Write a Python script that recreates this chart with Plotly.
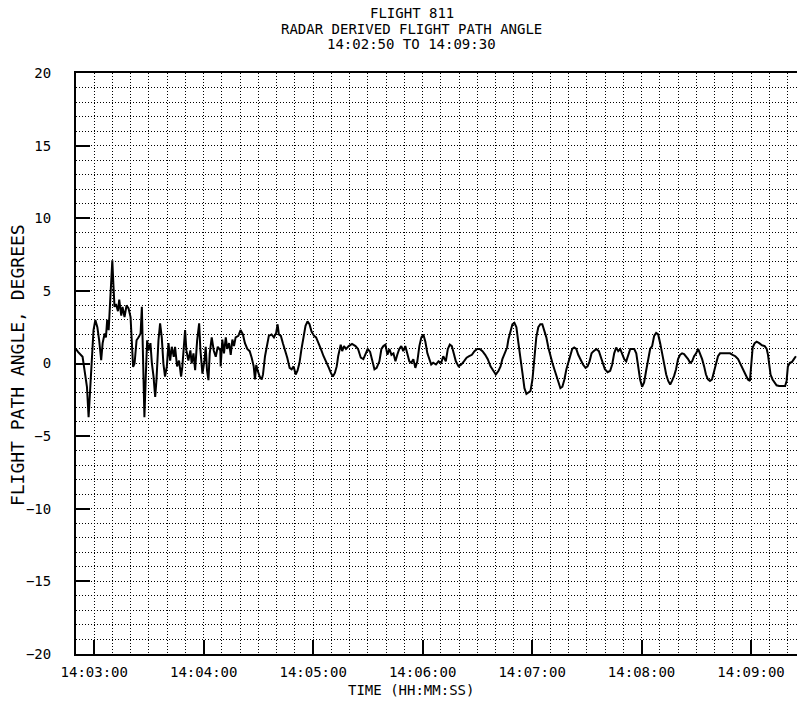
import plotly.graph_objects as go

# elapsed seconds since 14:02:50, flight path angle in degrees
elapsed_s = [
    0.0, 1.1, 3.6, 5.1, 6.0, 6.9, 7.6, 8.4, 9.6, 10.6, 11.7, 12.7, 13.8, 14.6, 15.7, 16.4,
    17.1, 17.9, 18.6, 19.3, 19.9, 20.4, 21.1, 21.9, 23.0, 23.7, 24.8, 25.5, 26.6, 27.7,
    28.8, 29.9, 30.6, 31.3, 32.1, 33.2, 34.3, 35.4, 36.1, 36.6, 37.0, 37.5, 38.3, 39.0,
    39.7, 40.8, 41.6, 42.5, 43.4, 44.1, 45.2, 46.1, 47.0, 47.9, 48.8, 49.8, 50.7, 51.6,
    52.5, 53.6, 54.3, 55.4, 56.5, 57.6, 58.3, 59.1, 59.8, 60.5, 61.6, 62.7, 63.4, 64.4,
    65.3, 66.4, 67.5, 68.2, 69.3, 70.4, 71.1, 71.8, 72.6, 73.3, 74.4, 75.5, 76.6, 77.7,
    79.1,
    79.3, 80.2, 81.1, 82.1, 82.9, 83.9, 84.8, 85.7, 86.6, 87.5, 89.0, 90.2, 91.5, 92.6,
    93.9, 95.2, 96.3, 97.4, 98.1, 98.8, 99.6, 100.7, 101.8, 102.5, 103.6, 104.8, 105.7,
    107.2, 108.5, 109.7, 110.5, 111.2, 112.3, 113.4, 114.5, 115.8, 117.1, 118.2, 119.3,
    120.4, 121.4, 122.5, 123.6, 124.7, 125.8, 126.9, 128.0, 129.1, 130.5, 131.6, 132.7,
    134.2, 135.7, 137.1, 138.6, 139.7, 140.8, 141.9, 142.9, 143.7, 144.4, 145.1, 145.9,
    146.9, 148.0, 149.5, 151.3, 153.2, 154.6, 156.1, 157.5,
    158.6, 159.9, 161.2, 162.3, 163.6, 164.8, 166.3, 167.4, 168.5, 169.6, 170.7, 171.8,
    172.9, 174.0, 175.1, 176.1, 177.2, 178.3, 179.4, 180.5, 181.6, 182.7, 183.8, 184.9,
    186.0, 187.1, 188.2, 189.3, 190.4, 191.5, 192.6, 193.7, 194.7, 195.8, 197.3, 198.7,
    200.2, 201.3, 202.7, 203.8, 204.9, 206.0, 207.1, 208.2, 209.7, 211.2, 212.6, 214.1,
    215.5, 217.0, 218.4, 219.9, 221.3, 222.8, 224.3, 225.7, 227.2, 228.7, 230.1, 231.6,
    232.7, 233.7, 234.8, 236.3,
    237.0, 238.1, 239.2, 240.3, 241.4, 242.5, 243.6, 244.7, 245.8, 246.9, 248.0, 249.1,
    250.2, 251.3, 252.3, 253.4, 254.5, 255.6, 256.7, 257.8, 258.9, 260.0, 261.1, 262.2,
    263.3, 264.4, 265.5, 266.6, 267.7, 268.8, 269.9, 271.0, 272.0, 273.1, 274.2, 275.3,
    276.4, 277.9, 279.3, 280.4, 281.5, 282.6, 283.7, 285.2, 286.6, 287.7, 288.8, 289.9,
    291.4, 292.8, 293.9, 295.0, 296.1, 297.2, 298.3, 299.4, 300.5, 301.6, 302.7, 303.8,
    304.9, 306.0, 307.1, 308.2, 309.2, 310.3, 311.4, 312.5, 313.6, 314.7, 315.8,
    316.9, 318.0, 319.1, 320.2, 321.3, 322.4, 323.5, 324.6, 325.7, 326.7, 327.8, 328.9,
    330.0, 331.1, 332.2, 333.3, 334.4, 335.5, 336.6, 337.7, 338.8, 339.9, 341.0, 342.1,
    343.2, 344.3, 345.3, 346.4, 347.5, 348.6, 349.7, 350.8, 351.9, 353.0, 354.1, 355.2,
    356.3, 357.4, 358.5, 359.9, 361.4, 362.9, 364.3, 365.8, 367.2, 368.3, 369.4, 370.1,
    370.9, 372.0, 373.1, 374.5, 376.0, 377.5, 378.6, 379.3, 380.0, 380.7, 381.8, 382.9,
    384.0, 385.4, 386.9, 388.7, 389.5, 390.2, 391.3, 392.4, 393.5, 394.6,
]
fpa_deg = [
    1.0, 0.8, 0.46, -0.9, -1.6, -3.7, -2.3, -0.46, 2.3, 3.0, 2.5, 1.6, 0.23, 1.4, 2.07, 1.8,
    3.0, 2.3, 3.9, 5.06, 7.1, 5.7, 3.9, 4.1, 3.6, 4.4, 3.3, 3.9, 3.2, 4.0,
    3.8, 3.2, 1.6, -0.23, 0.0, 1.6, 1.8, 2.07, 3.9, 1.6, -1.15, -3.7, -0.7, 1.6,
    0.9, 1.4, 0.0, -0.9, -2.3, -1.15, 1.6, 2.76, 1.8, 0.0, -0.9, -0.2, 1.4, 0.2,
    1.15, 0.46, 1.15, -0.2, 0.2, -0.9, -0.2, 1.6, 2.3, 0.9, 0.2, 0.9, 0.0, 0.7,
    -0.46, 1.6, 2.76, 0.9, -0.7, 0.2, 1.15, -0.46, -1.15, 0.7, 1.8, 0.9, 0.46, 1.15,
    0.9,
    -0.2, 1.65, 0.7, 1.8, 1.0, 1.4, 0.6, 1.65, 1.2, 1.8, 1.9, 2.3, 2.0, 1.4,
    1.0, 0.85, 0.4, -0.2, -1.1, -0.1, -0.5, -0.9, -1.1, -0.75, 0.5, 1.4, 1.9,
    2.0, 1.8, 2.1, 2.7, 2.0, 1.9, 1.4, 1.0, 0.4, -0.3, -0.4, -0.2,
    -0.76, -0.5, 0.05, 1.0, 1.9, 2.6, 2.9, 2.7, 2.2, 1.9, 1.8, 1.4,
    1.0, 0.5, 0.15, -0.3, -0.65, -0.9, -0.65, -0.2, 0.5, 1.0, 1.3, 0.85,
    1.2, 1.0, 1.2, 1.35, 1.2, 1.0, 0.4, 0.3,
    0.6, 1.0, 0.8, 0.15, -0.4, -0.3, 0.15, 1.0, 1.2, 1.3, 0.6, 1.0,
    0.6, 0.7, 0.15, 0.6, 1.0, 1.2, 0.85, 1.2, 0.6, 0.15, 0.05, 0.3,
    -0.3, 0.15, 1.2, 1.8, 2.0, 1.5, 0.7, 0.3, -0.07, 0.05, -0.07, 0.15,
    0.05, 0.5, 0.15, 1.0, 1.3, 1.2, 0.7, 0.15, -0.2, -0.07, 0.15, 0.4,
    0.5, 0.6, 0.85, 1.0, 1.0, 0.85, 0.6, 0.3, -0.2, -0.5, -0.76, -0.5,
    -0.2, 0.3, 0.7, 1.1,
    1.65, 2.3, 2.7, 2.8, 2.5, 1.4, 0.5, -0.65, -1.7, -2.1, -2.0, -1.9,
    -1.1, 0.5, 1.8, 2.5, 2.7, 2.7, 2.3, 1.8, 1.1, 0.5, 0.05, -0.4,
    -0.87, -1.3, -1.7, -1.6, -1.1, -0.4, 0.15, 0.6, 1.0, 1.1, 1.0, 0.6,
    0.3, -0.07, -0.3, -0.2, 0.15, 0.7, 0.85, 1.0, 0.85, 0.4, 0.05, -0.4,
    -0.6, -0.5, -0.07, 0.7, 1.1, 0.85, 1.0, 0.7, 0.3, 0.15, 0.6, 1.0,
    1.0, 1.0, 0.7, -0.2, -1.1, -1.6, -1.3, -0.5, 0.4, 1.0, 1.2,
    1.9, 2.1, 2.0, 1.4, 0.7, -0.07, -0.76, -1.2, -1.45, -1.2, -0.87, -0.4,
    0.3, 0.6, 0.7, 0.65, 0.5, 0.3, 0.05, 0.15, 0.5, 0.7, 1.0, 0.7,
    0.3, -0.2, -0.76, -1.1, -1.2, -1.1, -0.5, 0.05, 0.5, 0.7, 0.7, 0.7,
    0.7, 0.65, 0.7, 0.6, 0.5, 0.3, -0.07, -0.4, -0.76, -1.1, -1.2, -0.2,
    1.1, 1.4, 1.5, 1.4, 1.25, 1.2, 1.0, 0.6, -0.2, -0.76, -1.1, -1.3,
    -1.5, -1.55, -1.55, -1.55, -1.2, -0.2, 0.05, 0.1, 0.3, 0.5,
]

tick_vals = [10, 70, 130, 190, 250, 310, 370]
tick_text = ["14:03:00", "14:04:00", "14:05:00", "14:06:00", "14:07:00", "14:08:00", "14:09:00"]
title_lines = ["FLIGHT 811", "RADAR DERIVED FLIGHT PATH ANGLE", "14:02:50 TO 14:09:30"]

FONT = "DejaVu Sans Mono"
txt_font = dict(family=FONT, size=14, color="black")

fig = go.Figure()
fig.add_trace(go.Scatter(x=elapsed_s, y=fpa_deg, mode="lines",
                         line=dict(color="black", width=2), showlegend=False))

fig.update_xaxes(range=[0, 395.2], tickmode="array", tickvals=tick_vals, ticktext=tick_text,
                 ticks="inside", ticklen=14, tickwidth=2, tickcolor="black",
                 showline=True, linewidth=2, linecolor="black", mirror=True,
                 showgrid=False, zeroline=False, automargin=False, ticklabelstandoff=4,
                 minor=dict(tick0=0, dtick=10, showgrid=True, gridcolor="black",
                            gridwidth=1, griddash="1px,2px"),
                 tickfont=txt_font)
fig.update_yaxes(range=[-20, 20], tickmode="linear", tick0=-20, dtick=5,
                 ticks="inside", ticklen=14, tickwidth=2, tickcolor="black",
                 showline=True, linewidth=2, linecolor="black",
                 showgrid=True, gridcolor="black", gridwidth=1, griddash="1px,2px",
                 zeroline=False, ticklabelstandoff=20, automargin=False,
                 minor=dict(dtick=1, showgrid=True, gridcolor="black",
                            gridwidth=1, griddash="1px,2px"),
                 tickfont=txt_font)

# title lines, stacked like the plotter output
for txt, yp in zip(title_lines, [1.103, 1.0757, 1.050]):
    fig.add_annotation(text=txt, xref="paper", yref="paper", x=0.466, y=yp,
                       xanchor="center", yanchor="middle", showarrow=False, font=txt_font)
fig.add_annotation(text="TIME (HH:MM:SS)", xref="paper", yref="paper", x=0.465, y=-0.062,
                   xanchor="center", yanchor="middle", showarrow=False, font=txt_font)
fig.add_annotation(text="FLIGHT PATH ANGLE, DEGREES", xref="paper", yref="paper",
                   x=-0.082, y=0.497, textangle=-90, xanchor="center", yanchor="middle",
                   showarrow=False, font=dict(family=FONT, size=18, color="black"))

fig.update_layout(width=797, height=704, margin=dict(l=76, r=0, t=73, b=50),
                  paper_bgcolor="white", plot_bgcolor="white")
# drop the browser's default body margin so the figure sits at the page corner
fig.write_html("out.html", config={"displayModeBar": False},
               post_script="document.body.style.margin='0';")
